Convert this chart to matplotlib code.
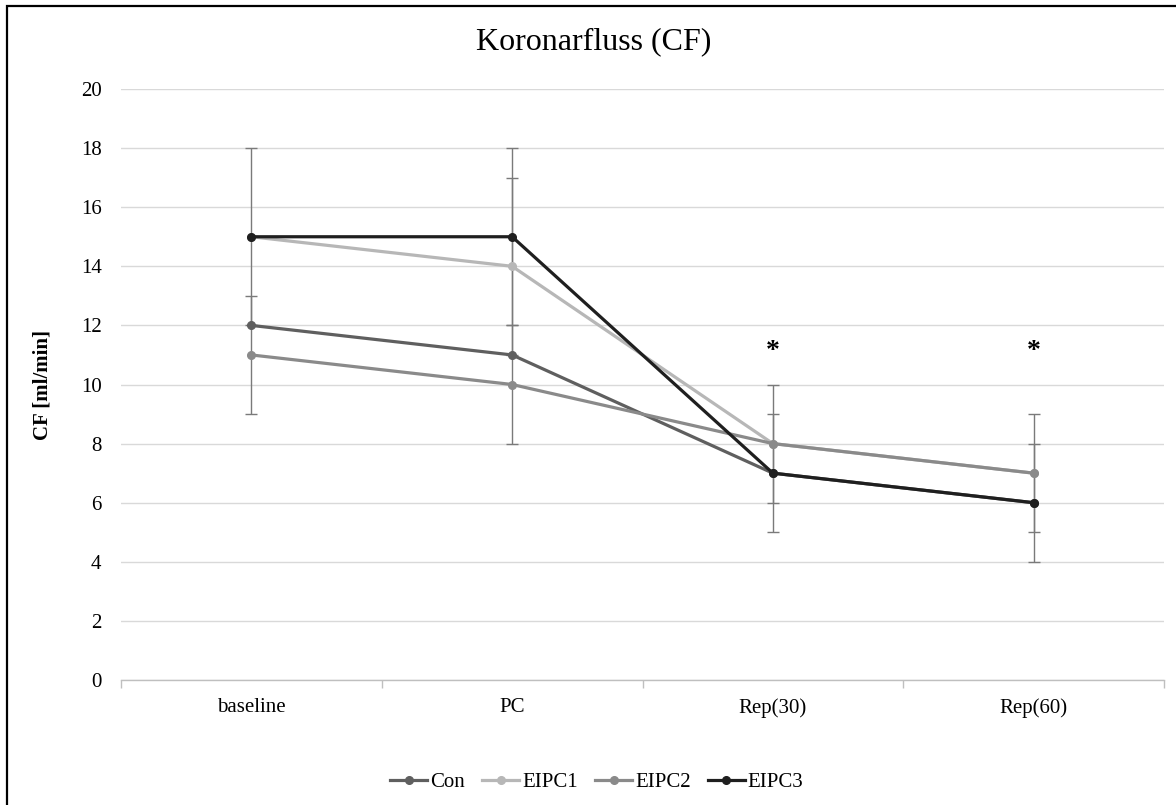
import numpy as np
import matplotlib
matplotlib.use("Agg")
import matplotlib.pyplot as plt
from matplotlib.patches import Rectangle

plt.rcParams['font.family'] = ['Liberation Serif', 'DejaVu Serif']

# Data
categories = ['baseline', 'PC', 'Rep(30)', 'Rep(60)']
series_names = ['Con', 'EIPC1', 'EIPC2', 'EIPC3']
con = [12, 11, 7, 6]
eipc1 = [15, 14, 8, 7]
eipc2 = [11, 10, 8, 7]
eipc3 = [15, 15, 7, 6]
# error bar half widths (0 = not drawn)
con_err = [0, 0, 2, 0]
eipc1_err = [0, 3, 2, 0]
eipc2_err = [2, 2, 0, 2]
eipc3_err = [3, 3, 0, 2]
star_cats = ['Rep(30)', 'Rep(60)']
star_y = 11.1

values = [con, eipc1, eipc2, eipc3]
errors = [con_err, eipc1_err, eipc2_err, eipc3_err]
colors = ['#5f5f5f', '#b7b7b7', '#8a8a8a', '#1f1f1f']

W, H = 1176, 805
fig = plt.figure(figsize=(W / 100, H / 100), dpi=100)
ax = fig.add_axes([121 / W, 1 - 680 / H, (1164 - 121) / W, (680 - 89) / H])

x = np.arange(len(categories))

# error bars first, underneath the lines
for err, vals in zip(errors, values):
    err = np.array(err)
    m = err > 0
    ax.errorbar(x[m], np.array(vals)[m], yerr=err[m], fmt='none',
                ecolor='#7a7a7a', elinewidth=1.0, capsize=4.5, capthick=1.0, zorder=2)

for name, vals, c in zip(series_names, values, colors):
    ax.plot(x, vals, color=c, lw=2.3, marker='o', markersize=5.5,
            label=name, zorder=3)

for cat in star_cats:
    ax.text(categories.index(cat), star_y, '*', ha='center', va='center',
            fontsize=20, fontweight='bold', color='black')

ax.set_xlim(-0.5, len(categories) - 0.5)
ax.set_ylim(0, 20)
ax.set_yticks(np.arange(0, 21, 2))
ax.set_xticks(x)
ax.set_xticklabels(categories)
ax.set_xticks(np.arange(-0.5, len(categories), 1), minor=True)
ax.tick_params(axis='x', which='major', length=0, pad=13, labelsize=15)
ax.tick_params(axis='x', which='minor', length=6, color='#bfbfbf', width=1)
ax.tick_params(axis='y', length=0, pad=14, labelsize=15)

ax.grid(axis='y', color='#d9d9d9', lw=1)
ax.set_axisbelow(True)
for s in ['top', 'right', 'left']:
    ax.spines[s].set_visible(False)
ax.spines['bottom'].set_color('#bfbfbf')
ax.spines['bottom'].set_linewidth(1)

ax.set_ylabel('CF [ml/min]', fontsize=15, fontweight='bold', labelpad=20)
fig.text(594 / W, 1 - 42 / H, 'Koronarfluss (CF)', ha='center', va='center', fontsize=23)

fig.legend(loc='center', bbox_to_anchor=(597 / W, 1 - 782 / H), ncol=4, frameon=False,
           fontsize=15, handlelength=1.75, handletextpad=0.15, columnspacing=0.85)

# outer frame, open to the right and bottom like the cropped original
fig.patches.append(Rectangle((7 / W, -0.1), 1.2, 1.1 - 6 / H, transform=fig.transFigure,
                             fill=False, edgecolor='black', lw=1.6))

fig.savefig('out.png', dpi=100)
